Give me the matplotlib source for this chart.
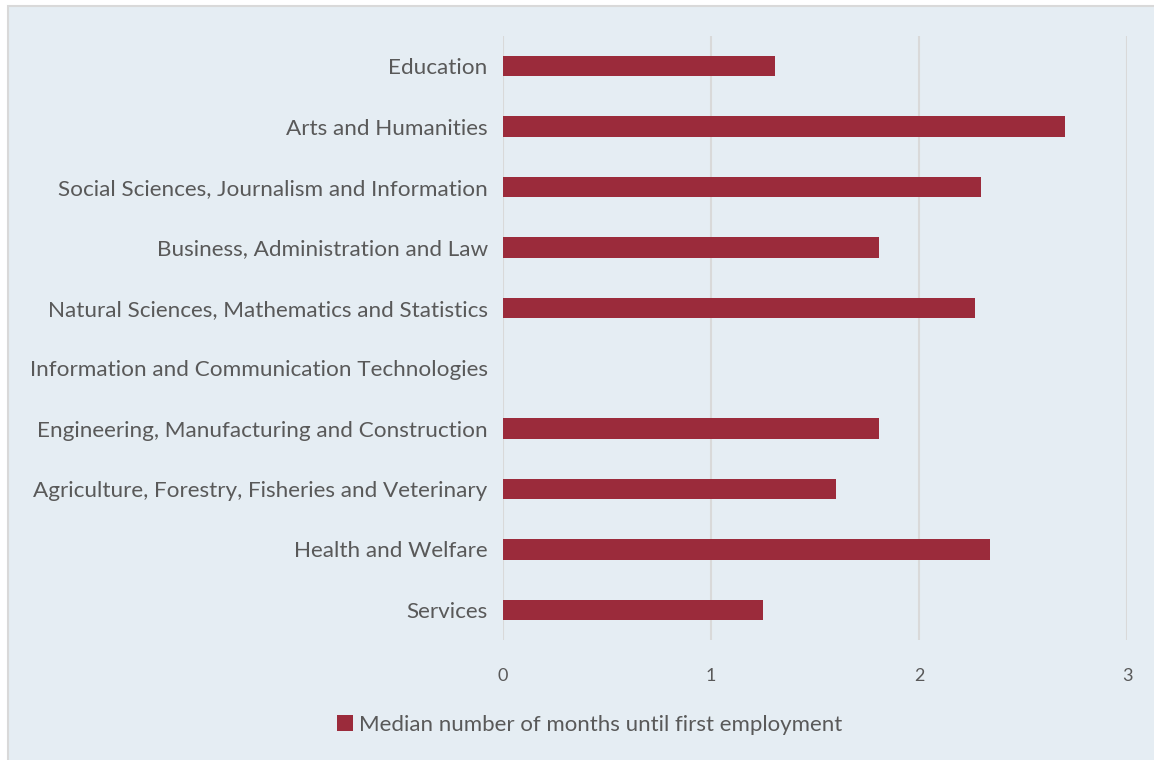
import matplotlib.pyplot as plt
from matplotlib.patches import Rectangle

categories = [
    'Education',
    'Arts and Humanities',
    'Social Sciences, Journalism and Information',
    'Business, Administration and Law',
    'Natural Sciences, Mathematics and Statistics',
    'Information and Communication Technologies',
    'Engineering, Manufacturing and Construction',
    'Agriculture, Forestry, Fisheries and Veterinary',
    'Health and Welfare',
    'Services',
]
months = [1.31, 2.70, 2.30, 1.81, 2.27, None, 1.81, 1.60, 2.34, 1.25]
series_name = 'Median number of months until first employment'
x_ticks = [0, 1, 2, 3]

bg = '#E5EDF3'
bar_color = '#9B2B3B'
text_color = '#595959'

plt.rcParams['font.family'] = ['Lato', 'DejaVu Sans']

fig = plt.figure(figsize=(11.54, 7.6), dpi=100)
fig.patch.set_facecolor('white')
# chart area background with thin grey frame
frame = Rectangle((8 / 1154, -0.05), 1.1, 1.05 - 6 / 760,
                  transform=fig.transFigure, facecolor=bg,
                  edgecolor='#D9D9D9', linewidth=1.5, zorder=-10)
fig.add_artist(frame)

ax = fig.add_axes([503 / 1154, 1 - 640 / 760, (1127 - 503) / 1154, (640 - 36) / 760])
ax.set_facecolor('none')
ax.set_zorder(1)

ypos = list(range(len(categories)))
vals = [v if v is not None else 0 for v in months]
bars = ax.barh(ypos, vals, height=0.34, color=bar_color, label=series_name, zorder=3)
for b, v in zip(bars, months):
    if v is None:
        b.set_visible(False)

ax.set_ylim(len(categories) - 0.5, -0.5)
ax.set_xlim(0, 3)
ax.set_yticks(ypos)
ax.set_yticklabels(categories, fontsize=16.2, color=text_color)
ax.set_xticks(x_ticks)
ax.set_xticklabels([str(t) for t in x_ticks], fontsize=13, color=text_color)
ax.tick_params(axis='both', length=0)
ax.tick_params(axis='y', pad=11)
ax.tick_params(axis='x', pad=20)
ax.grid(axis='x', color='#D9D9D9', linewidth=1.5, zorder=0)
for s in ax.spines.values():
    s.set_visible(False)

fig.legend(handles=[bars[0]], labels=[series_name], loc='center',
           bbox_to_anchor=(590 / 1154, 1 - 725 / 760), frameon=False,
           fontsize=16, labelcolor=text_color, handlelength=0.7,
           handleheight=0.7, handletextpad=0.3)

fig.savefig('out.png', dpi=100, facecolor=fig.get_facecolor())
